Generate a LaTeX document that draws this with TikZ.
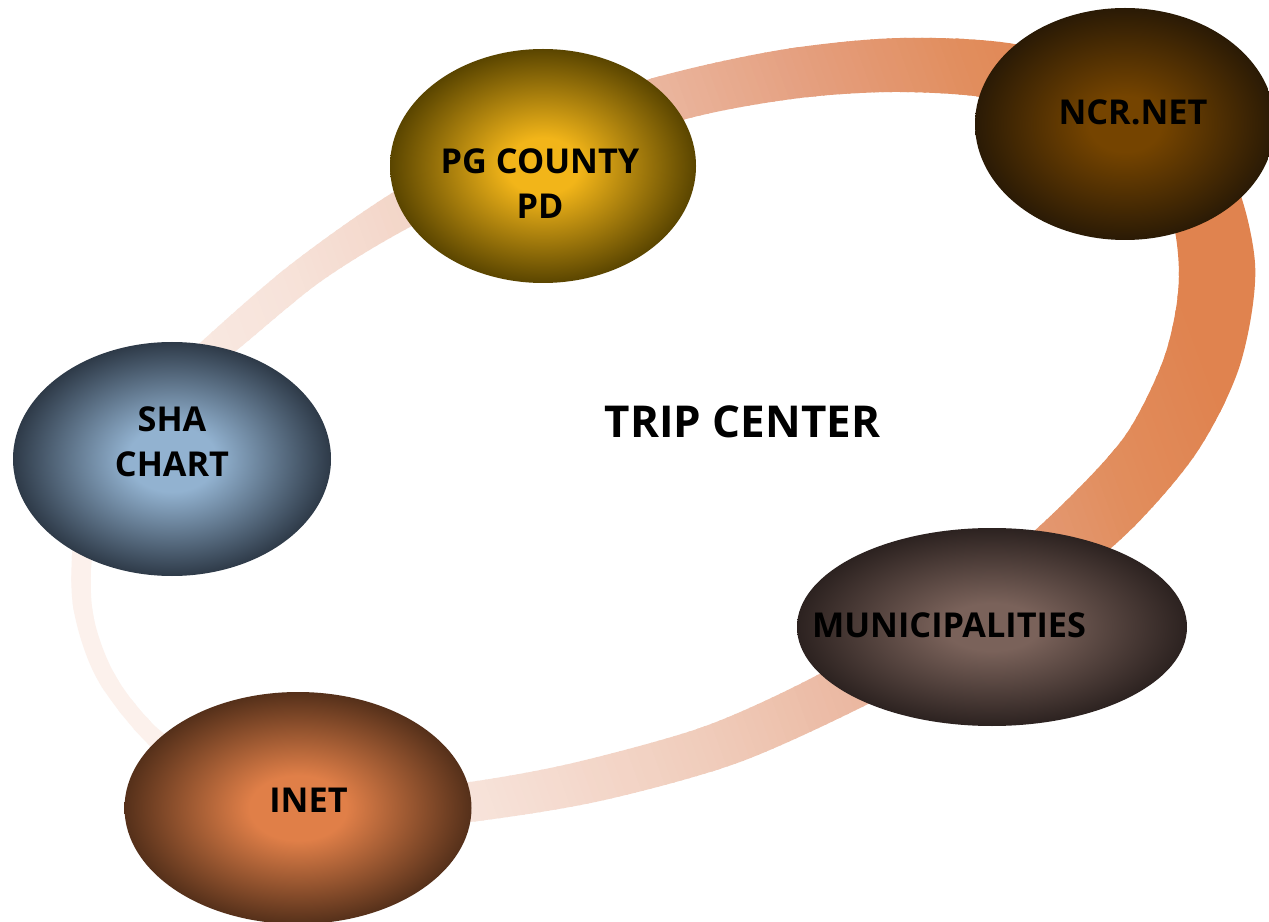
\documentclass[tikz,border=0pt]{standalone}
\usepackage{fontspec}
\setmainfont{Open Sans}
\usetikzlibrary{shapes.geometric}
% ellipse colours
\definecolor{pgin}{HTML}{F2B519}\definecolor{pgout}{HTML}{5A4500}
\definecolor{ncrin}{HTML}{754400}\definecolor{ncrout}{HTML}{2A1A05}
\definecolor{shain}{HTML}{92B2D0}\definecolor{shaout}{HTML}{2E3A48}
\definecolor{muin}{HTML}{7A625A}\definecolor{muout}{HTML}{2C2220}
\definecolor{inin}{HTML}{E07F48}\definecolor{inout}{HTML}{55301A}
% ring colours
\definecolor{r0}{HTML}{FCF4F0}\definecolor{r1}{HTML}{FCF1EC}
\definecolor{r2}{HTML}{F7E3DA}\definecolor{r3}{HTML}{F0CCBB}
\definecolor{r4}{HTML}{EAB59D}\definecolor{r5}{HTML}{E5A080}
\definecolor{r6}{HTML}{E18D5D}\definecolor{r7}{HTML}{E0834F}
\pgfdeclareradialshading{shPG}{\pgfpoint{0bp}{0bp}}{color(0bp)=(pgin); color(6bp)=(pgin); color(25bp)=(pgout); color(50bp)=(pgout)}
\pgfdeclareradialshading{shNCR}{\pgfpoint{0bp}{0bp}}{color(0bp)=(ncrin); color(6bp)=(ncrin); color(25bp)=(ncrout); color(50bp)=(ncrout)}
\pgfdeclareradialshading{shSHA}{\pgfpoint{0bp}{0bp}}{color(0bp)=(shain); color(7bp)=(shain); color(25bp)=(shaout); color(50bp)=(shaout)}
\pgfdeclareradialshading{shMU}{\pgfpoint{0bp}{0bp}}{color(0bp)=(muin); color(6bp)=(muin); color(25bp)=(muout); color(50bp)=(muout)}
\pgfdeclareradialshading{shIN}{\pgfpoint{0bp}{0bp}}{color(0bp)=(inin); color(7bp)=(inin); color(25bp)=(inout); color(50bp)=(inout)}
\newcommand\ringseg[4]{%
  \pgfmathtruncatemacro\nsteps{(#2-#1)/8}%
  \pgfmathsetmacro\stepw{(#2-#1)/\nsteps}%
  \foreach \i in {0,...,\nsteps}{%
    \pgfmathsetmacro\sv{#1+\i*\stepw}%
    \pgfmathtruncatemacro\pct{100*\i/\nsteps}%
    \fill[#4!\pct!#3, shift={(0,922)}, rotate=20]
      (\sv,-2000) -- (\sv+10,-2000) -- (\sv+10,2000) -- (\sv,2000) -- cycle;
  }}
\tikzset{
  ball/.style={ellipse, shade, draw=none, inner sep=0pt},
  lbl/.style={font=\fontsize{19.5}{25.5}\selectfont\bfseries, text=black, align=center, inner sep=0pt},
  title/.style={font=\fontsize{25}{29}\selectfont\bfseries, text=black, inner sep=0pt}
}
\begin{document}
\begin{tikzpicture}[x=0.02cm, y=-0.02cm]
\useasboundingbox (0,0) rectangle (1269,922);
\fill[white] (0,0) rectangle (1269,922);
% ring
\begin{scope}[even odd rule]
\clip
  plot[smooth cycle] coordinates {(392,193) (510,128) (650,79) (780,50) (900,38) (1020,45) (1140,85) (1225,160) (1255,263) (1240,365) (1195,455) (1120,540) (1010,625) (880,698) (740,762) (600,801) (470,822) (340,832) (220,800) (147,743) (95,675) (72,597) (80,500) (125,415) (200,343) (290,265)}
  plot[smooth cycle] coordinates {(410,227) (540,165) (690,118) (800,98) (900,92) (1000,100) (1100,135) (1165,200) (1179,277) (1165,355) (1127,433) (1070,497) (1000,560) (900,628) (800,684) (700,728) (573,763) (470,782) (350,795) (240,773) (163,733) (115,675) (92,607) (98,520) (150,420) (237,350) (320,282)};
\ringseg{-100}{200}{r0}{r1}
\ringseg{200}{480}{r1}{r2}
\ringseg{480}{720}{r2}{r3}
\ringseg{720}{900}{r3}{r4}
\ringseg{900}{1040}{r4}{r5}
\ringseg{1040}{1200}{r5}{r6}
\ringseg{1200}{1320}{r6}{r7}
\fill[r7, shift={(0,922)}, rotate=20] (1320,-2000) -- (1800,-2000) -- (1800,2000) -- (1320,2000) -- cycle;
\end{scope}
% ellipses
\node[ball, shading=shPG, minimum width=306*0.02cm, minimum height=234*0.02cm] (pg) at (543,166) {};
\node[ball, shading=shNCR, minimum width=300*0.02cm, minimum height=232*0.02cm] (ncr) at (1125,124) {};
\node[ball, shading=shSHA, minimum width=318*0.02cm, minimum height=234*0.02cm] (sha) at (172,459) {};
\node[ball, shading=shMU, minimum width=390*0.02cm, minimum height=198*0.02cm] (mu) at (992,627) {};
\node[ball, shading=shIN, minimum width=347*0.02cm, minimum height=232*0.02cm] (inet) at (298,808) {};
% labels
\node[lbl] (pgt) at ([shift={(-3,17.5)}]pg.center) {PG COUNTY\\PD};
\node[lbl] (ncrt) at ([shift={(8,-11.5)}]ncr.center) {NCR.NET};
\node[lbl] (shat) at ([shift={(0,-17)}]sha.center) {SHA\\CHART};
\node[lbl] (mut) at ([shift={(-43,-1.5)}]mu.center) {MUNICIPALITIES};
\node[lbl] (inett) at ([shift={(10.5,-7.5)}]inet.center) {INET};
\node[title] (trip) at (742.5,422) {TRIP CENTER};
\end{tikzpicture}
\end{document}
